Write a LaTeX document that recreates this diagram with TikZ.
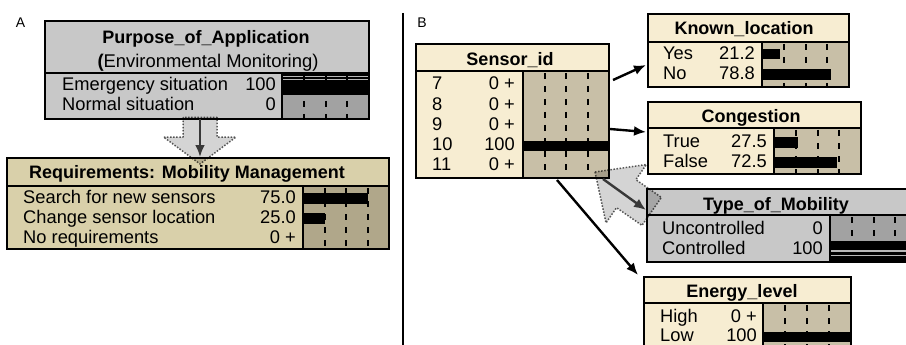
\documentclass[tikz,border=0pt]{standalone}
\usepackage{fontspec}
\setmainfont{Liberation Sans}
\usetikzlibrary{arrows.meta}
\definecolor{cream}{HTML}{F7EDD2}
\definecolor{creambar}{HTML}{C8BFA7}
\definecolor{tanA}{HTML}{D9D0AA}
\definecolor{tanbar}{HTML}{B0A78A}
\definecolor{grayA}{HTML}{C8C8C8}
\definecolor{grayAbar}{HTML}{A2A2A2}
\definecolor{fatgray}{HTML}{D4D4D4}
\newcommand\gridlines[4]{\foreach \f in {0.25,0.5,0.75}{\draw[gridl] ({#1+\f*(#2-#1)},#3) -- ({#1+\f*(#2-#1)},#4);}}
\begin{document}
\begin{tikzpicture}[x=1pt,y=-1pt,
  frame/.style={draw=black, line width=2.4pt, inner sep=0pt, outer sep=0pt, anchor=north west},
  sepl/.style={draw=black, line width=2pt},
  gridl/.style={draw=black, line width=2pt, dash pattern=on 6pt off 7pt, dash phase=-2pt},
  stripe/.style={draw=black!28, line width=1.2pt},
  lbl/.style={anchor=base west, inner sep=0pt, font=\fontsize{18.3}{20}\selectfont},
  val/.style={anchor=base east, inner sep=0pt, font=\fontsize{18.3}{20}\selectfont},
  ttl/.style={anchor=base, inner sep=0pt, font=\fontsize{18}{20}\selectfont\bfseries},
  sub/.style={anchor=base, inner sep=0pt, font=\fontsize{18.4}{20}\selectfont},
  panel/.style={anchor=base, inner sep=0pt, font=\fontsize{14}{16}\selectfont},
  conn/.style={draw=black, line width=2.4pt, -{Latex[length=12pt,width=10pt]}},
  dconn/.style={draw=black!78, line width=2.4pt, -{Latex[length=12pt,width=10pt]}},
  fat/.style={fill=fatgray, draw=black!62, line width=1.5pt, dash pattern=on 1.5pt off 1.6pt, line join=round},
]
\useasboundingbox (0,0) rectangle (906,345);
\clip (0,0) rectangle (906,345);

% panel labels and divider
\node[panel] (labA) at (20.5,28) {A};
\node[panel] (labB) at (422,28) {B};
\draw[line width=2pt] (403,13) -- (403,345);

% ---------- Purpose_of_Application ----------
\fill[grayA] (45,21) rectangle (369,119);
\fill[grayAbar] (282,73) rectangle (369,119);
\fill[black] (282,74) rectangle (369,95);
\draw[stripe] (282,76.3) -- (369,76.3) (282,79.2) -- (369,79.2);
\gridlines{282}{369}{73}{119}
\draw[sepl] (45,73) -- (369,73);
\draw[sepl] (282,73) -- (282,119);
\node[frame, minimum width=324pt, minimum height=98pt] (purpose) at (45,21) {};
\node[ttl] (purposeT) at (206,44) {Purpose\_of\_Application};
\node[sub] (purposeS) at (208,68) {\textbf{(}Environmental Monitoring)};
\node[lbl] (pEm) at (62,91) {Emergency situation};
\node[val] (pEmV) at (276,91) {100};
\node[lbl] (pNo) at (62,110.5) {Normal situation};
\node[val] (pNoV) at (276,110.5) {0};

% ---------- Requirements ----------
\fill[tanA] (7,158) rectangle (389,249);
\fill[tanbar] (303,186) rectangle (389,249);
\fill[black] (303,193) rectangle (367.5,204);
\fill[black] (303,213) rectangle (324.5,223.5);
\gridlines{303}{389}{186}{249}
\draw[sepl] (7,186) -- (389,186);
\draw[sepl] (303,186) -- (303,249);
\node[frame, minimum width=382pt, minimum height=91pt] (req) at (7,158) {};
\node[ttl] (reqT) at (187,178) {Requirements: Mobility Management};
\node[lbl] (r1) at (23,203.5) {Search for new sensors};
\node[val] (r1v) at (296,203.5) {75.0};
\node[lbl] (r2) at (23,223.5) {Change sensor location};
\node[val] (r2v) at (296,223.5) {25.0};
\node[lbl] (r3) at (23,243.5) {No requirements};
\node[val] (r3v) at (296,243.5) {0 +};

% ---------- Sensor_id ----------
\fill[cream] (416,44) rectangle (609,178);
\fill[creambar] (523,71) rectangle (609,178);
\fill[black] (523,140.5) rectangle (609,151);
\gridlines{523}{609}{71}{178}
\draw[sepl] (416,71) -- (609,71);
\draw[sepl] (523,71) -- (523,178);
\node[frame, minimum width=193pt, minimum height=134pt] (sensor) at (416,44) {};
\node[ttl] (sensorT) at (510,66) {Sensor\_id};
\node[lbl] (s7) at (432,90) {7};
\node[val] (s7v) at (515,90) {0 +};
\node[lbl] (s8) at (432,110.3) {8};
\node[val] (s8v) at (515,110.3) {0 +};
\node[lbl] (s9) at (432,130.5) {9};
\node[val] (s9v) at (515,130.5) {0 +};
\node[lbl] (s10) at (432,150.8) {10};
\node[val] (s10v) at (515,150.8) {100};
\node[lbl] (s11) at (432,171) {11};
\node[val] (s11v) at (515,171) {0 +};

% ---------- Known_location ----------
\fill[cream] (648,14) rectangle (849,87);
\fill[creambar] (762,42) rectangle (849,87);
\fill[black] (762,49) rectangle (780.4,59.5);
\fill[black] (762,69) rectangle (830.5,80);
\gridlines{762}{849}{42}{87}
\draw[sepl] (648,42) -- (849,42);
\draw[sepl] (762,42) -- (762,87);
\node[frame, minimum width=201pt, minimum height=73pt] (known) at (648,14) {};
\node[ttl] (knownT) at (744,35) {Known\_location};
\node[lbl] (k1) at (663,60) {Yes};
\node[val] (k1v) at (755,60) {21.2};
\node[lbl] (k2) at (663,80) {No};
\node[val] (k2v) at (755,80) {78.8};

% ---------- Congestion ----------
\fill[cream] (648,102) rectangle (861,174);
\fill[creambar] (774,128) rectangle (861,174);
\fill[black] (774,137) rectangle (798,147.5);
\fill[black] (774,157) rectangle (837,167.5);
\gridlines{774}{861}{128}{174}
\draw[sepl] (648,128) -- (861,128);
\draw[sepl] (774,128) -- (774,174);
\node[frame, minimum width=213pt, minimum height=72pt] (cong) at (648,102) {};
\node[ttl] (congT) at (751,122.3) {Congestion};
\node[lbl] (c1) at (663,147.3) {True};
\node[val] (c1v) at (767,147.3) {27.5};
\node[lbl] (c2) at (663,167.3) {False};
\node[val] (c2v) at (767,167.3) {72.5};

% ---------- Type_of_Mobility ----------
\fill[grayA] (647,189) rectangle (917,262);
\fill[grayAbar] (830,215) rectangle (917,262);
\fill[black] (830,240.5) rectangle (917,262);
\draw[stripe] (830,251) -- (917,251) (830,255.2) -- (917,255.2);
\gridlines{830}{917}{215}{262}
\draw[sepl] (647,215) -- (917,215);
\draw[sepl] (830,215) -- (830,262);
\node[frame, minimum width=270pt, minimum height=73pt] (mob) at (647,189) {};
\node[ttl] (mobT) at (776,210) {Type\_of\_Mobility};
\node[lbl] (m1) at (662,234) {Uncontrolled};
\node[val] (m1v) at (823,234) {0};
\node[lbl] (m2) at (662,254) {Controlled};
\node[val] (m2v) at (823,254) {100};

% ---------- Energy_level ----------
\fill[cream] (644,277) rectangle (851,360);
\fill[creambar] (763,303) rectangle (851,360);
\fill[black] (763,332) rectangle (851,342);
\gridlines{763}{851}{303}{360}
\draw[sepl] (644,303) -- (851,303);
\draw[sepl] (763,303) -- (763,360);
\node[frame, minimum width=207pt, minimum height=83pt] (energy) at (644,277) {};
\node[ttl] (energyT) at (742,297.7) {Energy\_level};
\node[lbl] (e1) at (660,322.3) {High};
\node[val] (e1v) at (757,322.3) {0 +};
\node[lbl] (e2) at (660,341.7) {Low};
\node[val] (e2v) at (757,341.7) {100};

% ---------- fat gray arrows ----------
\begin{scope}[blend mode=multiply]
\draw[fat] (183,117.5) -- (183,137) -- (163.5,137) -- (200,164) -- (236,137) -- (217,137) -- (217,117.5) -- cycle;
\draw[fat] (595,172) -- (646.4,164.5) -- (635.9,179.7) -- (661.4,197.4) -- (642,225.4) -- (616.5,207.7) -- (606,222.9) -- cycle;
\end{scope}

% ---------- connectors ----------
\draw[dconn] ([shift={(155,0)}]purpose.south west) -- ([shift={(193,-1)}]req.north west);
\draw[conn] ([shift={(4,36)}]sensor.north east) -- ([shift={(-2,51)}]known.north west);
\draw[conn] ([shift={(1,85)}]sensor.north east) -- ([shift={(-2,30)}]cong.north west);
\draw[conn] ([shift={(141,2)}]sensor.south west) -- ([shift={(-6,-2)}]energy.north west);
\draw[dconn] ([shift={(-6,1)}]sensor.south east) -- ([shift={(-1,21)}]mob.north west);
\end{tikzpicture}
\end{document}
